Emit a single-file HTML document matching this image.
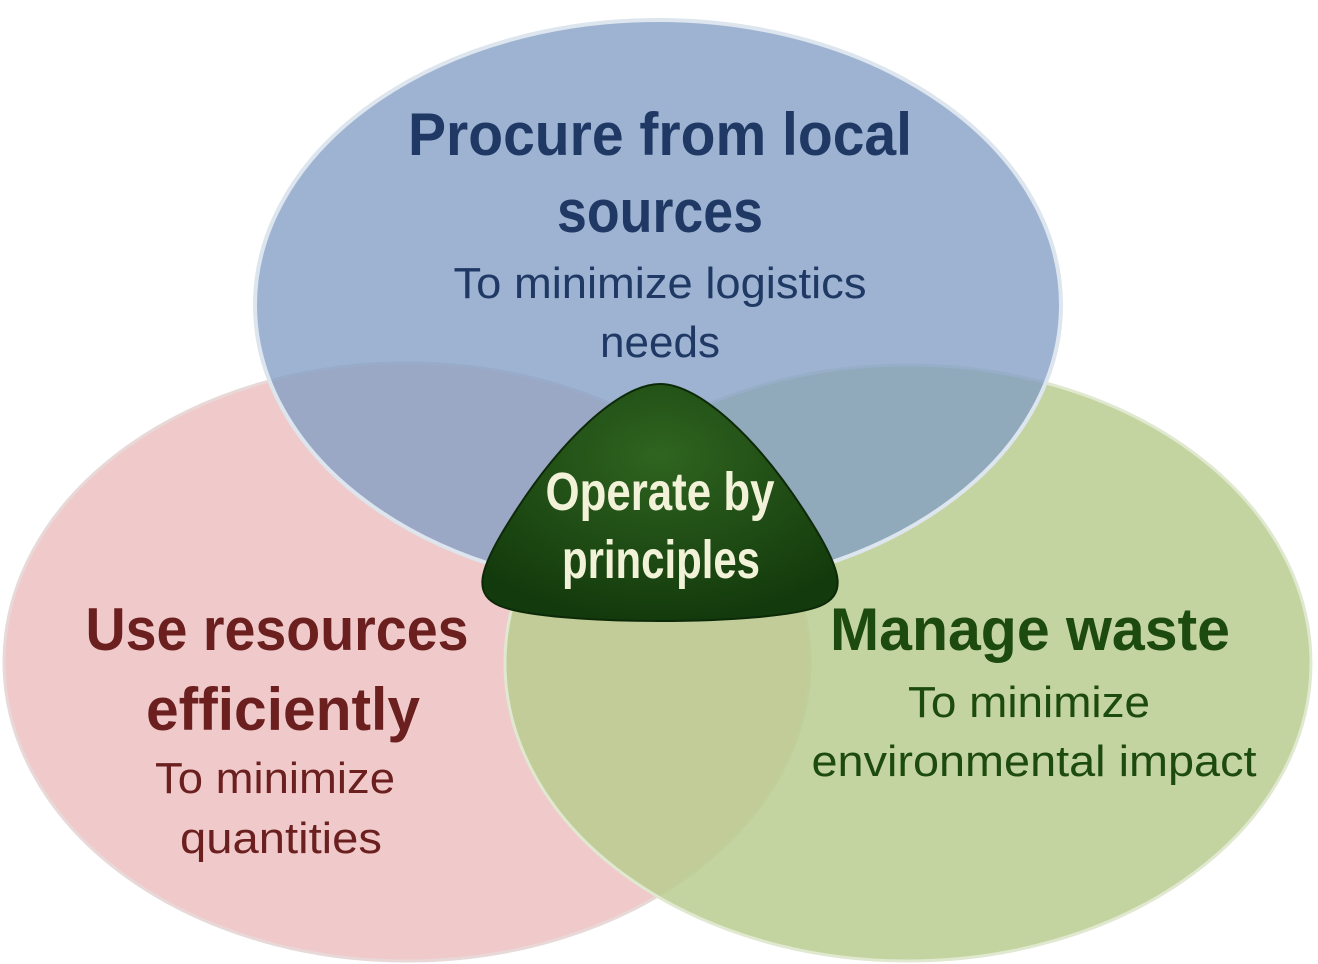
<!DOCTYPE html>
<html><head><meta charset="utf-8"><style>
html,body{margin:0;padding:0;background:#fff;width:1318px;height:964px;overflow:hidden}
svg{display:block}
text{font-family:"Liberation Sans",sans-serif;text-anchor:middle}
</style></head><body>
<svg width="1318" height="964" viewBox="0 0 1318 964" xmlns="http://www.w3.org/2000/svg">
<defs>
<radialGradient id="tri" cx="50%" cy="30%" r="70%">
<stop offset="0" stop-color="#2f6420"/><stop offset="1" stop-color="#133a0c"/>
</radialGradient>
</defs>
<ellipse cx="407" cy="662" rx="403" ry="299" fill="#f0caca" stroke="#e8d8d8" stroke-width="3"/>
<ellipse cx="908" cy="663" rx="403" ry="298" fill="#b9cc8f" fill-opacity="0.85" stroke="#e0e8d0" stroke-width="3"/>
<ellipse cx="658" cy="305" rx="403" ry="285" fill="#819ec4" fill-opacity="0.78" stroke="#dde5ee" stroke-width="4"/>
<path d="M660,384 C700,384 760,440 810,520 C845,575 845,595 820,606 C770,626 550,626 500,606 C475,595 475,575 510,520 C560,440 620,384 660,384 Z" fill="url(#tri)" stroke="#0d2a08" stroke-width="2"/>
<g font-weight="bold" fill="#1f3864" font-size="60">
<text x="660" y="155" textLength="504" lengthAdjust="spacingAndGlyphs">Procure from local</text>
<text x="660" y="232" textLength="206" lengthAdjust="spacingAndGlyphs">sources</text>
</g>
<g fill="#1f3864" font-size="44">
<text x="660" y="298" textLength="413" lengthAdjust="spacingAndGlyphs">To minimize logistics</text>
<text x="660" y="357" textLength="120" lengthAdjust="spacingAndGlyphs">needs</text>
</g>
<g font-weight="bold" fill="#6b1f1f" font-size="60">
<text x="277" y="650" textLength="383" lengthAdjust="spacingAndGlyphs">Use resources</text>
<text x="283" y="730" textLength="274" lengthAdjust="spacingAndGlyphs">efficiently</text>
</g>
<g fill="#6b1f1f" font-size="44">
<text x="275" y="793" textLength="240" lengthAdjust="spacingAndGlyphs">To minimize</text>
<text x="281" y="853" textLength="202" lengthAdjust="spacingAndGlyphs">quantities</text>
</g>
<g font-weight="bold" fill="#1d4a0e" font-size="60">
<text x="1030" y="650" textLength="400" lengthAdjust="spacingAndGlyphs">Manage waste</text>
</g>
<g fill="#1d4a0e" font-size="44">
<text x="1029" y="717" textLength="242" lengthAdjust="spacingAndGlyphs">To minimize</text>
<text x="1034" y="776" textLength="445" lengthAdjust="spacingAndGlyphs">environmental impact</text>
</g>
<g fill="#f2f2d8" font-size="54" font-weight="bold">
<text x="660" y="510" textLength="229" lengthAdjust="spacingAndGlyphs">Operate by</text>
<text x="661" y="578" textLength="198" lengthAdjust="spacingAndGlyphs">principles</text>
</g>
</svg>
</body></html>
